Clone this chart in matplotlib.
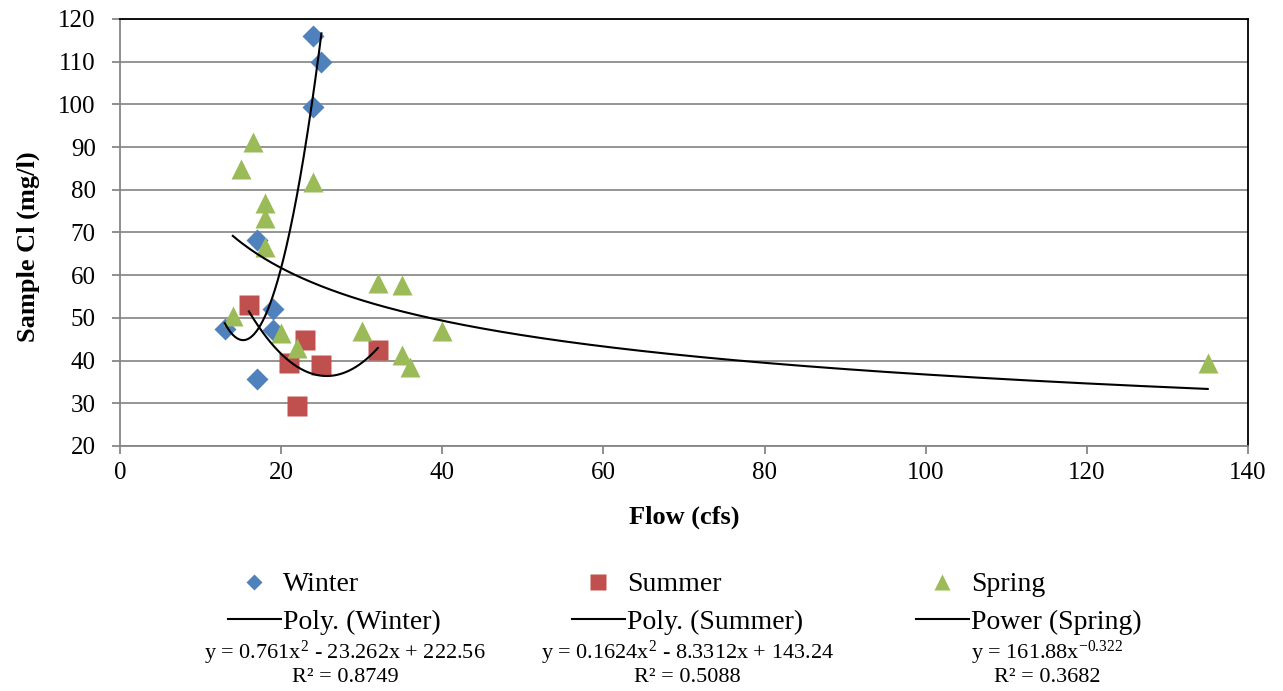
"""
Sample Cl vs flow, by season, with Excel-style trendlines
"""

import matplotlib

matplotlib.use("Agg")
import matplotlib.pyplot as plt
import numpy as np

# data
winter_flow = [24, 25, 24, 17, 13, 19, 19, 17]
winter_cl = [116, 110, 99.3, 68.2, 47.5, 52.2, 47.1, 35.8]

summer_flow = [16, 23, 21, 25, 22, 32]
summer_cl = [53.0, 44.9, 39.4, 39.0, 29.3, 42.4]

spring_flow = [14, 15, 16.5, 18, 18, 18, 24, 20, 22, 30, 32, 35, 35, 36, 40, 135]
spring_cl = [50.5, 84.8, 91.3, 77.0, 73.3, 66.7, 81.8, 46.5, 43.0, 47.0, 58.2, 57.8, 41.3, 38.4, 47.0, 39.4]

# trendline coefficients as printed on the chart
winter_poly = [0.761, -23.262, 222.56]
summer_poly = [0.1624, -8.3312, 143.24]
spring_power = [161.88, -0.322]

equations = [
    "y = 0.761x$^2$ - 23.262x + 222.56",
    "y = 0.1624x$^2$ - 8.3312x + 143.24",
    "y = 161.88x$^{-0.322}$",
]
r_squared = ["R² = 0.8749", "R² = 0.5088", "R² = 0.3682"]

plt.rcParams["font.family"] = ["Liberation Serif", "DejaVu Serif"]
plt.rcParams["mathtext.fontset"] = "custom"
plt.rcParams["mathtext.rm"] = "Liberation Serif"
plt.rcParams["mathtext.it"] = "Liberation Serif"
plt.rcParams["axes.unicode_minus"] = False

W, H = 1283, 691
fig = plt.figure(figsize=(W / 100, H / 100), dpi=100)
ax = fig.add_axes([120 / W, 1 - 446 / H, (1248 - 120) / W, (446 - 19) / H])

blue, red, green = "#4F81BD", "#C0504D", "#9BBB59"

ax.plot(winter_flow, winter_cl, "D", color=blue, ms=10.8, mec="none", zorder=3)
ax.plot(summer_flow, summer_cl, "s", color=red, ms=14, mec="none", zorder=3)
ax.plot(spring_flow, spring_cl, "^", color=green, ms=14.5, mec="none", zorder=3)

xw = np.linspace(min(winter_flow), max(winter_flow), 200)
xs = np.linspace(min(summer_flow), max(summer_flow), 200)
xp = np.linspace(min(spring_flow), max(spring_flow), 400)
lw_trend = 1.5
l1, = ax.plot(xw, np.polyval(winter_poly, xw), color="black", lw=lw_trend, zorder=4)
l2, = ax.plot(xs, np.polyval(summer_poly, xs), color="black", lw=lw_trend, zorder=4)
l3, = ax.plot(xp, spring_power[0] * xp ** spring_power[1], color="black", lw=lw_trend, zorder=4)

ax.set_xlim(0, 140)
ax.set_ylim(20, 120)
ax.set_xticks(range(0, 141, 20))
ax.set_yticks(range(20, 121, 10))
ax.yaxis.grid(True, color="#8c8c8c", lw=1.3)
ax.set_axisbelow(True)

for side in ["top", "right"]:
    ax.spines[side].set_color("black")
    ax.spines[side].set_linewidth(1.3)
for side in ["left", "bottom"]:
    ax.spines[side].set_color("#868686")
    ax.spines[side].set_linewidth(1.3)
ax.tick_params(direction="out", length=5.5, width=1.3, color="#868686", labelsize=18)
ax.tick_params(axis="y", pad=12)
ax.tick_params(axis="x", pad=6)

ax.set_xlabel("Flow (cfs)", fontsize=19, fontweight="bold", va="center")
ax.xaxis.set_label_coords(0.5, (446 - 517) / 427)
ax.set_ylabel("Sample Cl (mg/l)", fontsize=19, fontweight="bold", va="center")
ax.yaxis.set_label_coords((28 - 120) / 1128, (446 - 247) / 427)

# legend: three small legends side by side, equation text below each
names = [("Winter", "Poly. (Winter)"), ("Summer", "Poly. (Summer)"), ("Spring", "Power (Spring)")]
marker_style = [("D", blue, 8), ("s", red, 12), ("^", green, 12)]
trend_lines = [l1, l2, l3]
col_x = [228, 572, 916]
eq_x = [345, 687, 1047]
for i in range(3):
    m, c, ms = marker_style[i]
    h_marker = plt.Line2D([], [], ls="none", marker=m, color=c, ms=ms, mec="none")
    fig.legend(
        [h_marker, trend_lines[i]],
        list(names[i]),
        loc="upper left",
        bbox_to_anchor=(col_x[i] / W, 1 - 572 / H),
        frameon=False,
        fontsize=20,
        borderpad=0,
        borderaxespad=0,
        handlelength=1.9,
        handletextpad=0.08,
        labelspacing=0.42,
    )
    fig.text(eq_x[i] / W, 1 - 653 / H, equations[i], ha="center", va="center", fontsize=16)
    fig.text(eq_x[i] / W, 1 - 677 / H, r_squared[i], ha="center", va="center", fontsize=16)

fig.savefig("out.png", dpi=100)
